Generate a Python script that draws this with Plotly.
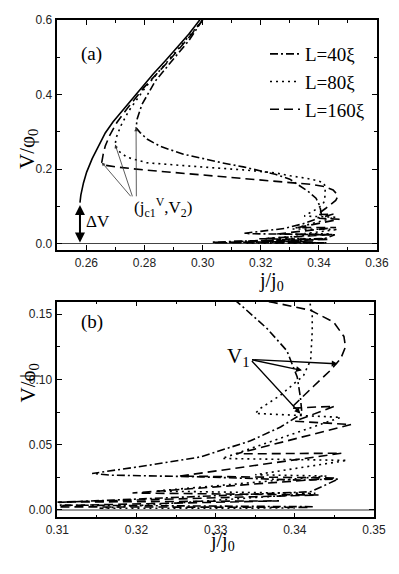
import plotly.graph_objects as go

# solid curve, common upper branch (no legend entry)
j_solid = [0.2578, 0.2581, 0.2590, 0.2601, 0.2620, 0.2640, 0.2665, 0.2692, 0.2722, 0.2755,
           0.2791, 0.2830, 0.2871, 0.2910, 0.2952, 0.2990, 0.3005]
v_solid = [0.110, 0.130, 0.163, 0.192, 0.228, 0.260, 0.297, 0.327, 0.355, 0.387,
           0.418, 0.455, 0.490, 0.525, 0.562, 0.600, 0.615]

# L=40xi (dash-dot)
j_40 = [0.3000, 0.2952, 0.2894, 0.2837, 0.2791, 0.2775, 0.2771, 0.2785, 0.2810, 0.2854,
        0.2934, 0.2992, 0.3060, 0.3140, 0.3200, 0.3250, 0.3300, 0.3330, 0.3365, 0.3390,
        0.3403, 0.3407, 0.3409, 0.3382, 0.3344, 0.3281, 0.3217, 0.3144, 0.3167, 0.3281,
        0.3344, 0.3407, 0.3455, 0.3420, 0.3030, 0.3426]
v_40 = [0.600, 0.544, 0.490, 0.436, 0.373, 0.335, 0.311, 0.298, 0.280, 0.261,
        0.240, 0.229, 0.218, 0.206, 0.196, 0.186, 0.173, 0.158, 0.139, 0.122,
        0.102, 0.0865, 0.0738, 0.0636, 0.0530, 0.0407, 0.0344, 0.0280, 0.0267, 0.0254,
        0.0244, 0.0229, 0.0237, 0.0140, 0.0040, 0.0025]

# L=80xi (dotted)
j_80 = [0.3000, 0.2940, 0.2871, 0.2802, 0.2745, 0.2718, 0.2703, 0.2699, 0.2705, 0.2739,
        0.2808, 0.2900, 0.2992, 0.3140, 0.3250, 0.3302, 0.3360, 0.3400, 0.3418, 0.3422,
        0.3422, 0.3420, 0.3411, 0.3382, 0.3357, 0.3350, 0.3458, 0.3308, 0.3466, 0.3350,
        0.3440, 0.3224, 0.3426, 0.3152, 0.3400]
v_80 = [0.600, 0.544, 0.481, 0.418, 0.355, 0.315, 0.285, 0.266, 0.252, 0.232,
        0.217, 0.211, 0.206, 0.198, 0.190, 0.182, 0.175, 0.168, 0.162, 0.150,
        0.137, 0.115, 0.103, 0.088, 0.078, 0.074, 0.0710, 0.0395, 0.0380, 0.0270,
        0.0260, 0.0145, 0.0127, 0.0013, 0.0015]

# L=160xi (dashed)
j_160 = [0.3000, 0.2960, 0.2880, 0.2797, 0.2738, 0.2705, 0.2680, 0.2665, 0.2658, 0.2653,
         0.2668, 0.2700, 0.2796, 0.2900, 0.2992, 0.3140, 0.3250, 0.3320, 0.3373, 0.3420,
         0.3449, 0.3462, 0.3464, 0.3458, 0.3445, 0.3424, 0.3403, 0.3395, 0.3450, 0.3400,
         0.3471, 0.3326, 0.3459, 0.3255, 0.3452, 0.3195, 0.3430, 0.3100, 0.3380, 0.3040,
         0.3420]
v_160 = [0.600, 0.560, 0.487, 0.418, 0.360, 0.325, 0.290, 0.262, 0.240, 0.218,
         0.210, 0.206, 0.198, 0.191, 0.185, 0.176, 0.169, 0.164, 0.159, 0.153,
         0.144, 0.133, 0.125, 0.116, 0.107, 0.095, 0.083, 0.078, 0.0795, 0.0680,
         0.0655, 0.0430, 0.0435, 0.0260, 0.0245, 0.0130, 0.0115, 0.0060, 0.0070, 0.0025,
         0.0020]

series = [("L=40ξ", j_40, v_40, "8px,3px,2px,3px"),
          ("L=80ξ", j_80, v_80, "2px,4px"),
          ("L=160ξ", j_160, v_160, "9px,5px")]

SERIF = "Liberation Serif"
SANS = "Liberation Sans"

# the page body keeps an 8px margin on every side, so the figure is laid out
# in shifted pixels and sized to fit the 399x574 window without scrolling
W, H, OFF = 383, 558, 8
X = lambda px: (px - OFF) / W
Y = lambda py: 1 - (py - OFF) / H

fig = go.Figure()
for xa, ya, show in [("x", "y", True), ("x2", "y2", False)]:
    fig.add_trace(go.Scatter(x=j_solid, y=v_solid, mode="lines", xaxis=xa, yaxis=ya,
                             line=dict(color="black", width=1.6), showlegend=False))
    for name, jj, vv, dash in series:
        fig.add_trace(go.Scatter(x=jj, y=vv, mode="lines", name=name, xaxis=xa, yaxis=ya,
                                 line=dict(color="black", width=1.6, dash=dash),
                                 showlegend=show))


def ax(**kw):
    d = dict(showline=True, linecolor="black", linewidth=1.5, mirror="allticks",
             ticks="inside", ticklen=5, tickwidth=1.2, tickcolor="black", showgrid=False,
             zeroline=False, automargin=False, ticklabelstandoff=1,
             ticklabeloverflow="allow",
             tickfont=dict(family=SANS, size=12, color="#222"))
    d.update(kw)
    return d


minor = lambda dt: dict(dtick=dt, ticks="inside", ticklen=3, tickwidth=1, tickcolor="black")

fig.update_layout(
    width=W, height=H, margin=dict(l=0, r=0, t=0, b=0, autoexpand=False),
    plot_bgcolor="white", paper_bgcolor="white",
    xaxis=ax(domain=[X(57.3), X(377)], range=[0.25, 0.36], dtick=0.02, tick0=0.26,
             tickformat=".2f", anchor="y", minor=minor(0.01)),
    yaxis=ax(domain=[Y(250), Y(20)], range=[-0.017, 0.6], dtick=0.2, tickformat=".1f",
             anchor="x", minor=minor(0.1), zeroline=True, zerolinecolor="#444",
             zerolinewidth=1),
    xaxis2=ax(domain=[X(57.3), X(374)], range=[0.31, 0.35], dtick=0.01,
              tickformat=".2f", anchor="y2", minor=minor(0.005)),
    yaxis2=ax(domain=[Y(517.3), Y(301.7)], range=[-0.0056, 0.1596], dtick=0.05,
              tickformat=".2f", anchor="x2", minor=minor(0.025), zeroline=True,
              zerolinecolor="#999", zerolinewidth=1.5),
    legend=dict(x=X(265), y=Y(35), xanchor="left", yanchor="top",
                bgcolor="rgba(0,0,0,0)", font=dict(family=SERIF, size=19, color="black"),
                tracegroupgap=0),
)

ann = []
# text labels placed by page pixel
for txt, px, py, ang, fs in [("(a)", 79, 41, 0, 19), ("(b)", 79, 322, 0, 19),
                             ("j/j<sub>0</sub>", 286, 281, 0, 20),
                             ("j/j<sub>0</sub>", 222, 556, 0, 20),
                             ("V/φ<sub>0</sub>", 13, 127, -90, 21),
                             ("V/ϕ<sub>0</sub>", 13, 405, -90, 21)]:
    ann.append(dict(text=txt, x=X(px), y=Y(py), xref="paper", yref="paper",
                    showarrow=False, textangle=ang,
                    font=dict(family=SERIF, size=fs, color="black")))

# panel (a) labels and arrows
ann.append(dict(text="ΔV", x=0.2639, y=0.059, xref="x", yref="y", showarrow=False,
                font=dict(family=SERIF, size=17, color="black")))
ann.append(dict(text="", x=0.2578, y=0.003, ax=0.2578, ay=0.108, xref="x", yref="y",
                axref="x", ayref="y", showarrow=True, arrowhead=2, arrowsize=1,
                arrowwidth=2, arrowside="end+start", arrowcolor="black"))
ann.append(dict(text="(j<sub>c1</sub><sup>V</sup>,V<sub>2</sub>)", x=0.2757, y=0.096,
                xref="x", yref="y", xanchor="left", showarrow=False,
                font=dict(family=SERIF, size=17, color="black")))
for hx, hy, tx in [(0.2653, 0.218, 0.2757), (0.2699, 0.266, 0.2760), (0.2771, 0.311, 0.2772)]:
    ann.append(dict(text="", x=hx, y=hy, ax=tx, ay=0.123, xref="x", yref="y",
                    axref="x", ayref="y", showarrow=True, arrowhead=2, arrowsize=0.9,
                    arrowwidth=0.8, arrowcolor="#333"))

# panel (b) V1 label and arrows
ann.append(dict(text="V<sub>1</sub>", x=0.3312, y=0.117, xref="x2", yref="y2",
                xanchor="left", showarrow=False,
                font=dict(family=SERIF, size=21, color="black")))
for hx, hy in [(0.3454, 0.112), (0.3409, 0.107), (0.3407, 0.0738)]:
    ann.append(dict(text="", x=hx, y=hy, ax=0.3344, ay=0.1153, xref="x2", yref="y2",
                    axref="x2", ayref="y2", showarrow=True, arrowhead=2, arrowsize=0.9,
                    arrowwidth=1.3, arrowcolor="black"))

fig.update_layout(annotations=ann)
fig.write_html("out.html")
